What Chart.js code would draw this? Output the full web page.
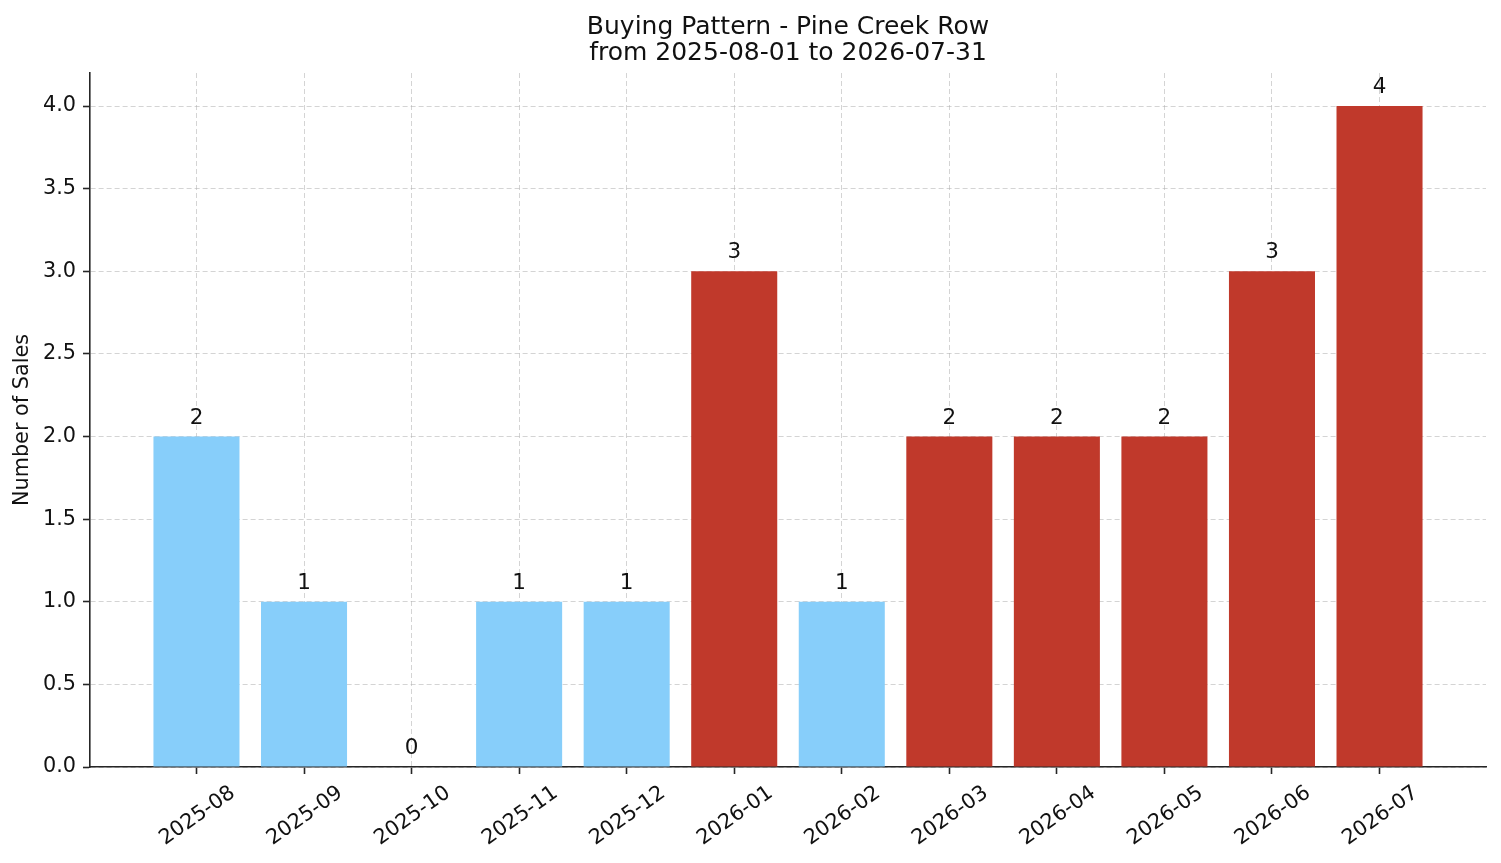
<!DOCTYPE html>
<html>
<head>
<meta charset="utf-8">
<title>Buying Pattern - Pine Creek Row</title>
<script src="https://cdn.jsdelivr.net/npm/chart.js@4.4.1/dist/chart.umd.min.js"></script>
<style>
  html, body { margin: 0; padding: 0; background: #fff; }
  #wrap { width: 1501px; height: 863px; }
</style>
</head>
<body>
<div id="wrap"><canvas id="chart" width="1501" height="863"></canvas></div>
<script>
// --- datos ---------------------------------------------------------------
const months = ['2025-08', '2025-09', '2025-10', '2025-11', '2025-12', '2026-01',
                '2026-02', '2026-03', '2026-04', '2026-05', '2026-06', '2026-07'];
const sales = [2, 1, 0, 1, 1, 3, 1, 2, 2, 2, 3, 4];
// meses resaltados en rojo
const highlighted = [false, false, false, false, false, true, false, true, true, true, true, true];
const yTicks = [0, 0.5, 1, 1.5, 2, 2.5, 3, 3.5, 4];
const titleLines = ['Buying Pattern - Pine Creek Row', 'from 2025-08-01 to 2026-07-31'];
const yTitle = 'Number of Sales';

// --- estilos -------------------------------------------------------------
const FONT = '"DejaVu Sans", sans-serif';
const BLUE = '#87CEFA';
const RED = '#C0392B';
const INK = '#111111';
const AXIS = '#262626';
const GRID = 'rgba(176,176,176,0.55)';

// título, etiqueta del eje y, etiquetas de meses y valores sobre las barras
const decor = {
  id: 'decor',
  afterDraw(chart) {
    const ctx = chart.ctx;
    const x = chart.scales.x, y = chart.scales.y;
    const area = chart.chartArea;
    ctx.save();
    ctx.fillStyle = INK;

    // título
    ctx.font = '25px ' + FONT;
    ctx.textAlign = 'center';
    ctx.textBaseline = 'alphabetic';
    const cx = (area.left + area.right) / 2;
    ctx.fillText(titleLines[0], cx, 34);
    ctx.fillText(titleLines[1], cx, 60);

    // eje y
    ctx.save();
    ctx.font = '20.8px ' + FONT;
    ctx.translate(23, (area.top + area.bottom) / 2);
    ctx.rotate(-Math.PI / 2);
    ctx.textBaseline = 'middle';
    ctx.fillText(yTitle, 0, 0);
    ctx.restore();

    // etiquetas de meses rotadas
    ctx.font = '20.8px ' + FONT;
    months.forEach((m, i) => {
      ctx.save();
      ctx.translate(x.getPixelForValue(i) + 1, area.bottom + 49);
      ctx.rotate(-35 * Math.PI / 180);
      ctx.textAlign = 'center';
      ctx.textBaseline = 'middle';
      ctx.fillText(m, 0, 0);
      ctx.restore();
    });

    // valores
    ctx.font = '21.5px ' + FONT;
    ctx.textAlign = 'center';
    ctx.textBaseline = 'alphabetic';
    sales.forEach((v, i) => {
      ctx.fillText(String(v), x.getPixelForValue(i), y.getPixelForValue(v) - 13);
    });
    ctx.restore();
  }
};

const ctx = document.getElementById('chart').getContext('2d');
const chart = new Chart(ctx, {
  type: 'bar',
  data: {
    datasets: [{
      data: months.map((m, i) => ({ x: i, y: sales[i] })),
      backgroundColor: highlighted.map(h => h ? RED : BLUE),
      borderWidth: 0,
      barPercentage: 0.8,
      categoryPercentage: 1.0
    }]
  },
  options: {
    responsive: false,
    animation: false,
    devicePixelRatio: 1,
    layout: { padding: { top: 73, right: 15, left: 0, bottom: 0 } },
    plugins: { legend: { display: false }, tooltip: { enabled: false }, title: { display: false } },
    scales: {
      x: {
        type: 'linear',
        min: -0.99,
        max: 11.99,
        offset: false,
        z: 1,
        afterBuildTicks: s => { s.ticks = months.map((m, i) => ({ value: i })); },
        afterFit: s => { s.height = 96; },
        ticks: { display: false },
        grid: { offset: false, color: GRID, lineWidth: 1, tickColor: AXIS, tickWidth: 1.6, tickLength: 7 },
        border: { display: true, color: AXIS, width: 1.6, dash: [5, 3] }
      },
      y: {
        min: 0,
        max: 4.2,
        z: 1,
        afterBuildTicks: s => { s.ticks = yTicks.map(v => ({ value: v })); },
        afterFit: s => { s.width = 90; },
        ticks: {
          color: INK,
          padding: 7,
          font: { family: FONT, size: 20.8 },
          callback: v => Number(v).toFixed(1)
        },
        grid: { color: GRID, lineWidth: 1, tickColor: AXIS, tickWidth: 1.6, tickLength: 7 },
        border: { display: true, color: AXIS, width: 1.6, dash: [5, 3] }
      }
    }
  },
  plugins: [decor]
});
</script>
</body>
</html>
